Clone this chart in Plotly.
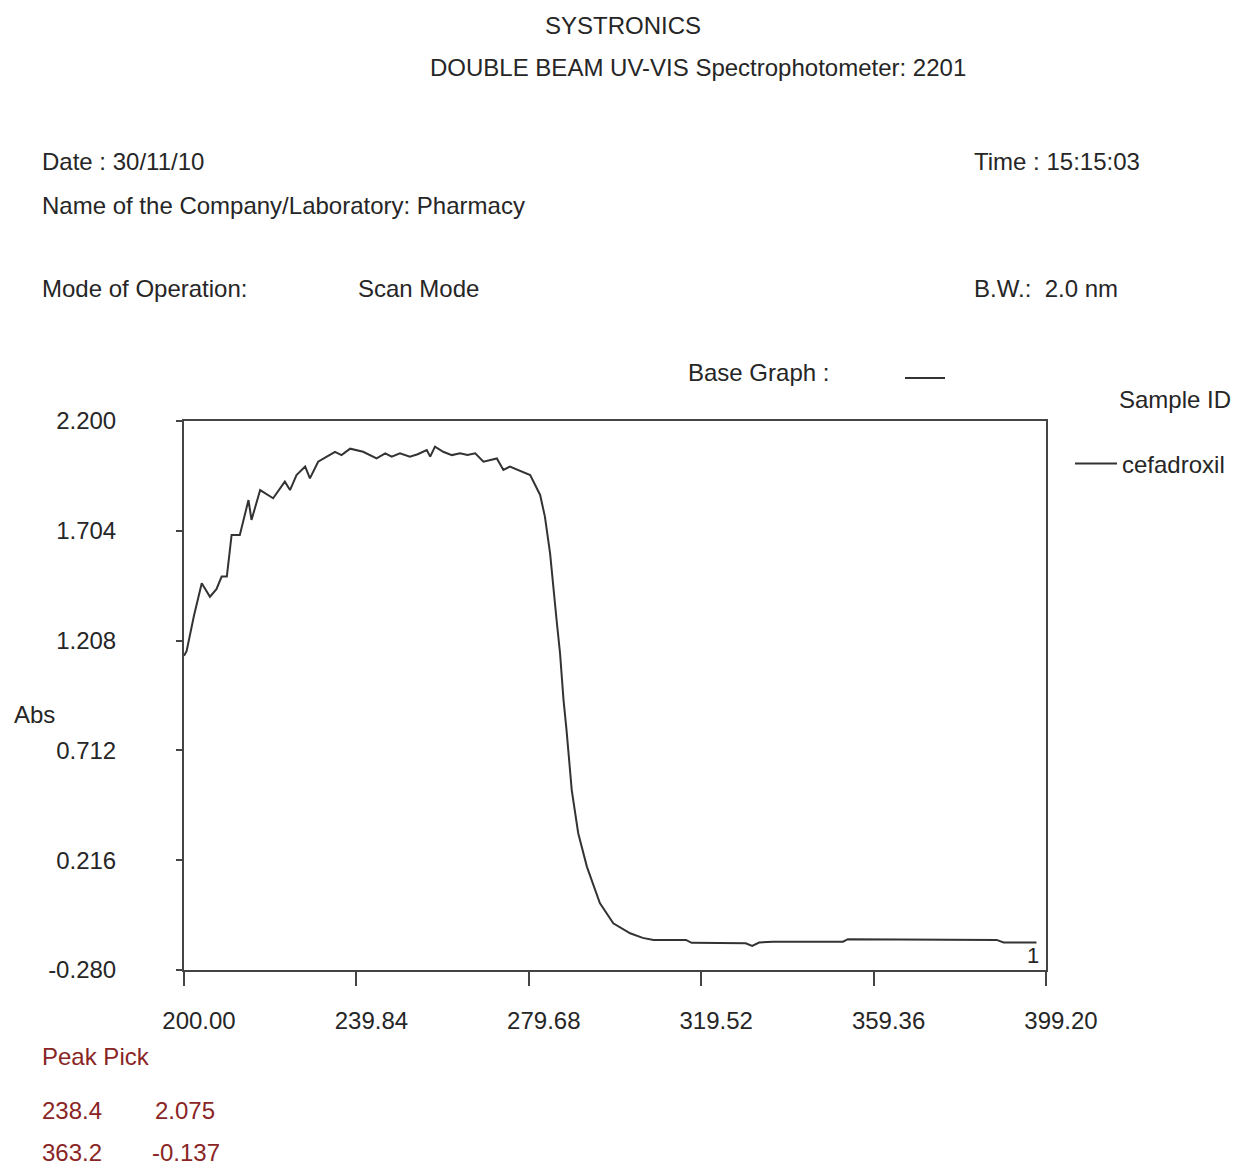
import plotly.graph_objects as go

# ---- data ----
wavelength_nm = [
    200.0, 200.6, 202.3, 204.1, 206.0, 207.5, 208.7, 209.9, 211.0, 212.9,
    214.9, 215.6, 217.6, 220.6, 223.3, 224.5, 226.0, 228.0, 229.1, 231.0,
    233.0, 234.9, 236.4, 238.4, 241.4, 244.5, 246.5, 248.0, 249.9, 252.2,
    254.0, 256.1, 256.9, 258.0, 259.9, 261.9, 263.8, 265.5, 267.3, 269.2,
    272.3, 273.8, 275.3, 278.4, 280.0, 282.3, 283.4, 284.6, 285.3, 286.1,
    286.9, 287.7, 288.4, 289.6, 291.1, 293.1, 296.1, 299.2, 303.1, 306.0,
    308.5, 316.0, 317.3, 329.8, 331.3, 332.9, 336.1, 352.3, 353.4, 387.8,
    389.4, 397.0,
]
absorbance = [
    1.140, 1.160, 1.320, 1.467, 1.406, 1.440, 1.497, 1.497, 1.685, 1.685,
    1.843, 1.753, 1.888, 1.851, 1.926, 1.888, 1.956, 1.994, 1.941, 2.016,
    2.039, 2.061, 2.046, 2.075, 2.061, 2.031, 2.054, 2.039, 2.054, 2.039,
    2.050, 2.069, 2.039, 2.084, 2.061, 2.046, 2.054, 2.046, 2.054, 2.016,
    2.031, 1.979, 1.994, 1.971, 1.956, 1.866, 1.768, 1.602, 1.452, 1.301,
    1.151, 0.940, 0.804, 0.533, 0.338, 0.187, 0.022, -0.069, -0.114, -0.135,
    -0.144, -0.144, -0.157, -0.159, -0.171, -0.156, -0.152, -0.152, -0.141, -0.144,
    -0.156, -0.156,
]
x_ticks = [200.00, 239.84, 279.68, 319.52, 359.36, 399.20]
x_tick_labels = ["200.00", "239.84", "279.68", "319.52", "359.36", "399.20"]
y_ticks = [2.200, 1.704, 1.208, 0.712, 0.216, -0.280]
y_tick_labels = ["2.200", "1.704", "1.208", "0.712", "0.216", "-0.280"]
peak_wavelengths = ["238.4", "363.2"]
peak_values = ["2.075", "-0.137"]
sample_name = "cefadroxil"

# ---- layout geometry (pixels) ----
FIG_W, FIG_H = 1242, 1168
L, R, T, B = 184, 1046, 421, 970
PW, PH = R - L, B - T

def px(xp):
    return (xp - L) / PW

def py(yp):
    return (B - yp) / PH

FONT = "Liberation Sans, Arial, sans-serif"
TXT = "#262626"
RED = "#8a2525"
FS = 24

fig = go.Figure()
fig.add_trace(go.Scatter(
    x=wavelength_nm, y=absorbance, mode="lines", name=sample_name,
    line=dict(color="#333333", width=2), showlegend=True,
))

ann = []
def text(s, xp, yp, color=TXT, size=FS, anchor="left"):
    ann.append(dict(text=s, x=px(xp), y=py(yp), xref="paper", yref="paper",
                    xanchor=anchor, yanchor="middle", showarrow=False,
                    font=dict(family=FONT, size=size, color=color)))

text("SYSTRONICS", 543, 25)
text("DOUBLE BEAM UV-VIS Spectrophotometer: 2201", 428, 67)
text("Date : 30/11/10", 40, 161)
text("Time : 15:15:03", 972, 161)
text("Name of the Company/Laboratory: Pharmacy", 40, 206)
text("Mode of Operation:", 40, 288)
text("Scan Mode", 356, 288)
text("B.W.:  2.0 nm", 972, 288)
text("Base Graph :", 686, 372)
text("Sample ID", 1117, 399)
text("Abs", 12, 714)
text("Peak Pick", 40, 1056, color=RED)
for i, (w, v) in enumerate(zip(peak_wavelengths, peak_values)):
    yy = 1110 + i * 42
    text(w, 40, yy, color=RED)
    text(v, 150 if v.startswith("-") else 153, yy, color=RED)

# curve number label at end of trace
ann.append(dict(text="1", x=wavelength_nm[-1], y=absorbance[-1], xref="x", yref="y",
                xanchor="center", yanchor="top", showarrow=False, xshift=-3, yshift=2,
                font=dict(family=FONT, size=22, color=TXT)))

shapes = [dict(type="line", xref="paper", yref="paper",
               x0=px(905), x1=px(945), y0=py(378), y1=py(378),
               line=dict(color="#333333", width=2))]

fig.update_layout(
    width=FIG_W, height=FIG_H,
    margin=dict(l=L, r=FIG_W - R, t=T, b=FIG_H - B, pad=0),
    paper_bgcolor="white", plot_bgcolor="white",
    font=dict(family=FONT, size=FS, color=TXT),
    annotations=ann, shapes=shapes,
    legend=dict(x=px(1070), y=py(464), xanchor="left", yanchor="middle",
                bgcolor="rgba(0,0,0,0)", borderwidth=0,
                font=dict(family=FONT, size=FS, color=TXT), itemwidth=42),
    xaxis=dict(range=[200, 399.2], tickvals=x_ticks, ticktext=x_tick_labels,
               showgrid=False, zeroline=False, showline=True, mirror=True,
               linecolor="#444444", linewidth=2, ticks="outside", ticklen=14,
               tickwidth=2, tickcolor="#444444", ticklabelshift=15,
               ticklabelstandoff=14, tickfont=dict(size=FS, color=TXT)),
    yaxis=dict(range=[-0.28, 2.2], tickvals=y_ticks, ticktext=y_tick_labels,
               showgrid=False, zeroline=False, showline=True, mirror=True,
               linecolor="#444444", linewidth=2, ticks="outside", ticklen=6,
               tickwidth=2, tickcolor="#444444", ticklabelstandoff=55,
               tickfont=dict(size=FS, color=TXT)),
)

fig.write_html("out.html")
